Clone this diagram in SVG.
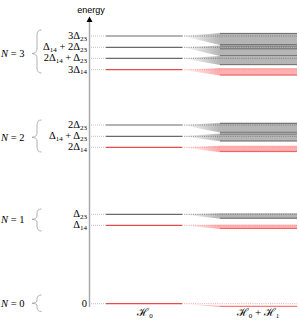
<svg xmlns="http://www.w3.org/2000/svg" width="299" height="321" viewBox="0 0 299 321">
<defs>
<linearGradient id="gg" x1="0" y1="0" x2="1" y2="0"><stop offset="0" stop-color="#b5b5b5" stop-opacity="0"/><stop offset="1" stop-color="#b5b5b5" stop-opacity="1"/></linearGradient>
<linearGradient id="rg" x1="0" y1="0" x2="1" y2="0"><stop offset="0" stop-color="#ffa8a8" stop-opacity="0"/><stop offset="1" stop-color="#ffa8a8" stop-opacity="1"/></linearGradient>
</defs>
<style>
.lbl{font-family:"Liberation Serif","DejaVu Serif",serif;font-size:10.5px;fill:#000;text-anchor:end}
.nl{font-family:"Liberation Serif","DejaVu Serif",serif;font-size:10.5px;fill:#000}
.sub{font-size:7px}
.lead{stroke:#b0b0b0;stroke-width:0.8;stroke-dasharray:1,1;fill:none}
.h0g{stroke:#6a6a6a;stroke-width:1.2}
.h0r{stroke:#e84a4a;stroke-width:1.2}
.fg{fill:url(#gg)}
.fr{fill:url(#rg)}
.bg{fill:#b5b5b5}
.br{fill:#ffb0b0}
.eg{stroke:#555;stroke-width:0.8}
.er{stroke:#ee5c5c;stroke-width:1}
.dg{stroke:#6e6e6e;stroke-width:0.8;stroke-dasharray:1,1.2}
.dr{stroke:#f09090;stroke-width:0.8;stroke-dasharray:1,1.2}
.brace{fill:none;stroke:#a0a0a0;stroke-width:0.8}
.xl{font-family:"Liberation Serif","DejaVu Serif",serif;font-size:11px;fill:#000;text-anchor:middle}
</style>
<g id="axis">
<line x1="89.5" y1="307" x2="89.5" y2="21" stroke="#aaa" stroke-width="1.5"/>
<polygon points="89.5,16.5 86.5,22 92.5,22" fill="#000"/>
<text x="91" y="12.5" font-family="Liberation Sans,Arial,sans-serif" font-size="9" text-anchor="middle">energy</text>
</g>
<g id="braces">
<path class="brace" d="M41.5,30 Q37,30 37,35 L37,49 Q37,53 32,53.5 Q37,54 37,58 L37,68 Q37,73 41.5,73"/>
<path class="brace" d="M41.5,120 Q37,120 37,125 L37,133 Q37,137 32,137.3 Q37,137.6 37,141 L37,147 Q37,152 41.5,152"/>
<path class="brace" d="M41.5,209 Q37,209 37,213 L37,216 Q37,219 32,219.3 Q37,219.6 37,222 L37,226 Q37,231 41.5,231"/>
<path class="brace" d="M41.5,295 Q37,295 37,299 L37,301 Q37,303 32,303.3 Q37,303.6 37,305 L37,307.5 Q37,311.5 41.5,311.5"/>
<text class="nl" x="1" y="57"><tspan font-style="italic">N</tspan> = 3</text>
<text class="nl" x="1" y="141"><tspan font-style="italic">N</tspan> = 2</text>
<text class="nl" x="1" y="223"><tspan font-style="italic">N</tspan> = 1</text>
<text class="nl" x="1" y="307"><tspan font-style="italic">N</tspan> = 0</text>
</g>
<g id="labels">
<text class="lbl" x="87" y="39">3Δ<tspan class="sub" dy="1.5">23</tspan></text>
<text class="lbl" x="87" y="50.3">Δ<tspan class="sub" dy="1.5">14</tspan><tspan dy="-1.5"> + 2Δ</tspan><tspan class="sub" dy="1.5">23</tspan></text>
<text class="lbl" x="87" y="61.3">2Δ<tspan class="sub" dy="1.5">14</tspan><tspan dy="-1.5"> + Δ</tspan><tspan class="sub" dy="1.5">23</tspan></text>
<text class="lbl" x="87" y="72.7">3Δ<tspan class="sub" dy="1.5">14</tspan></text>
<text class="lbl" x="87" y="128">2Δ<tspan class="sub" dy="1.5">23</tspan></text>
<text class="lbl" x="87" y="139.3">Δ<tspan class="sub" dy="1.5">14</tspan><tspan dy="-1.5"> + Δ</tspan><tspan class="sub" dy="1.5">23</tspan></text>
<text class="lbl" x="87" y="150.3">2Δ<tspan class="sub" dy="1.5">14</tspan></text>
<text class="lbl" x="87" y="217.3">Δ<tspan class="sub" dy="1.5">23</tspan></text>
<text class="lbl" x="87" y="228.3">Δ<tspan class="sub" dy="1.5">14</tspan></text>
<text class="lbl" x="87" y="307">0</text>
</g>
<g id="connectors">
<line class="lead" x1="91" y1="36" x2="106" y2="36"/>
<line class="lead" x1="91" y1="47.3" x2="106" y2="47.3"/>
<line class="lead" x1="91" y1="58.3" x2="106" y2="58.3"/>
<line class="lead" x1="91" y1="69.7" x2="106" y2="69.7"/>
<line class="lead" x1="91" y1="125" x2="106" y2="125"/>
<line class="lead" x1="91" y1="136.3" x2="106" y2="136.3"/>
<line class="lead" x1="91" y1="147.3" x2="106" y2="147.3"/>
<line class="lead" x1="91" y1="214.3" x2="106" y2="214.3"/>
<line class="lead" x1="91" y1="225.3" x2="106" y2="225.3"/>
<line class="lead" x1="91" y1="303.7" x2="106" y2="303.7"/>
</g>
<g id="level-3D23">
<line class="h0g" x1="106" y1="36" x2="182" y2="36"/>
<polygon class="fg" points="182,36 220,33 220,45"/>
<rect class="bg" x="220" y="33" width="77" height="12"/>
<line class="eg" x1="220" y1="33.4" x2="297" y2="33.4"/><line class="eg" x1="220" y1="44.7" x2="297" y2="44.7"/>
<line class="dg" x1="182" y1="36" x2="297" y2="36"/>
</g>
<g id="level-D14-2D23">
<line class="h0g" x1="106" y1="47.3" x2="182" y2="47.3"/>
<polygon class="fg" points="182,47.3 220,45.5 220,56"/>
<rect class="bg" x="220" y="45.5" width="77" height="10.5"/>
<line class="eg" x1="220" y1="46" x2="297" y2="46"/><line class="eg" x1="220" y1="48.8" x2="297" y2="48.8"/><line class="eg" x1="220" y1="55.7" x2="297" y2="55.7"/>
<line class="dg" x1="182" y1="47.3" x2="297" y2="47.3"/>
</g>
<g id="level-2D14-D23">
<line class="h0g" x1="106" y1="58.3" x2="182" y2="58.3"/>
<polygon class="fg" points="182,58.3 220,56 220,65"/>
<rect class="bg" x="220" y="56" width="77" height="9"/>
<line class="eg" x1="220" y1="64.7" x2="297" y2="64.7"/>
<line class="dg" x1="182" y1="58.3" x2="297" y2="58.3"/>
</g>
<g id="level-3D14">
<line class="h0r" x1="106" y1="69.7" x2="182" y2="69.7"/>
<polygon class="fr" points="182,69.7 220,68 220,75.5"/>
<rect class="br" x="220" y="68" width="77" height="7.5"/>
<line class="er" x1="220" y1="75" x2="297" y2="75"/>
<line class="dr" x1="182" y1="69.7" x2="297" y2="69.7"/>
</g>
<g id="level-2D23">
<line class="h0g" x1="106" y1="125" x2="182" y2="125"/>
<polygon class="fg" points="182,125 220,122.8 220,132.5"/>
<rect class="bg" x="220" y="122.8" width="77" height="9.7"/>
<line class="eg" x1="220" y1="123.3" x2="297" y2="123.3"/><line class="eg" x1="220" y1="132.3" x2="297" y2="132.3"/>
<line class="dg" x1="182" y1="125" x2="297" y2="125"/>
</g>
<g id="level-D14-D23">
<line class="h0g" x1="106" y1="136.3" x2="182" y2="136.3"/>
<polygon class="fg" points="182,136.3 220,133.5 220,141.3"/>
<rect class="bg" x="220" y="133.5" width="77" height="7.8"/>
<line class="eg" x1="220" y1="134" x2="297" y2="134"/><line class="eg" x1="220" y1="141" x2="297" y2="141"/>
<line class="dg" x1="182" y1="136.3" x2="297" y2="136.3"/>
</g>
<g id="level-2D14">
<line class="h0r" x1="106" y1="147.3" x2="182" y2="147.3"/>
<polygon class="fr" points="182,147.3 220,145.7 220,152.2"/>
<rect class="br" x="220" y="145.7" width="77" height="6.5"/>
<line class="er" x1="220" y1="151.4" x2="297" y2="151.4"/>
<line class="dr" x1="182" y1="147.3" x2="297" y2="147.3"/>
</g>
<g id="level-D23">
<line class="h0g" x1="106" y1="214.3" x2="182" y2="214.3"/>
<polygon class="fg" points="182,214.3 220,213.2 220,218.7"/>
<rect class="bg" x="220" y="213.2" width="77" height="5.5"/>
<line class="eg" x1="220" y1="218.2" x2="297" y2="218.2"/>
<line class="dg" x1="182" y1="214.3" x2="297" y2="214.3"/>
</g>
<g id="level-D14">
<line class="h0r" x1="106" y1="225.3" x2="182" y2="225.3"/>
<polygon class="fr" points="182,225.3 220,224.7 220,229"/>
<rect class="br" x="220" y="224.7" width="77" height="4.3"/>
<line class="er" x1="220" y1="228.4" x2="297" y2="228.4"/>
<line class="dr" x1="182" y1="225.3" x2="297" y2="225.3"/>
</g>
<g id="level-0">
<line class="h0r" x1="106" y1="303.7" x2="182" y2="303.7"/>
<polygon class="fr" points="182,303.7 220,305.7 220,307"/>
<line class="dr" x1="182" y1="303.7" x2="297" y2="303.7"/>
<line class="er" x1="220" y1="306.3" x2="297" y2="306.3"/>
</g>
<g id="xlabels">
<text class="xl" x="145" y="316">ℋ<tspan font-size="7" dy="1.5">0</tspan></text>
<text class="xl" x="258" y="316">ℋ<tspan font-size="7" dy="1.5">0</tspan><tspan dy="-1.5"> + ℋ</tspan><tspan font-size="7" dy="1.5">1</tspan></text>
</g>
</svg>
